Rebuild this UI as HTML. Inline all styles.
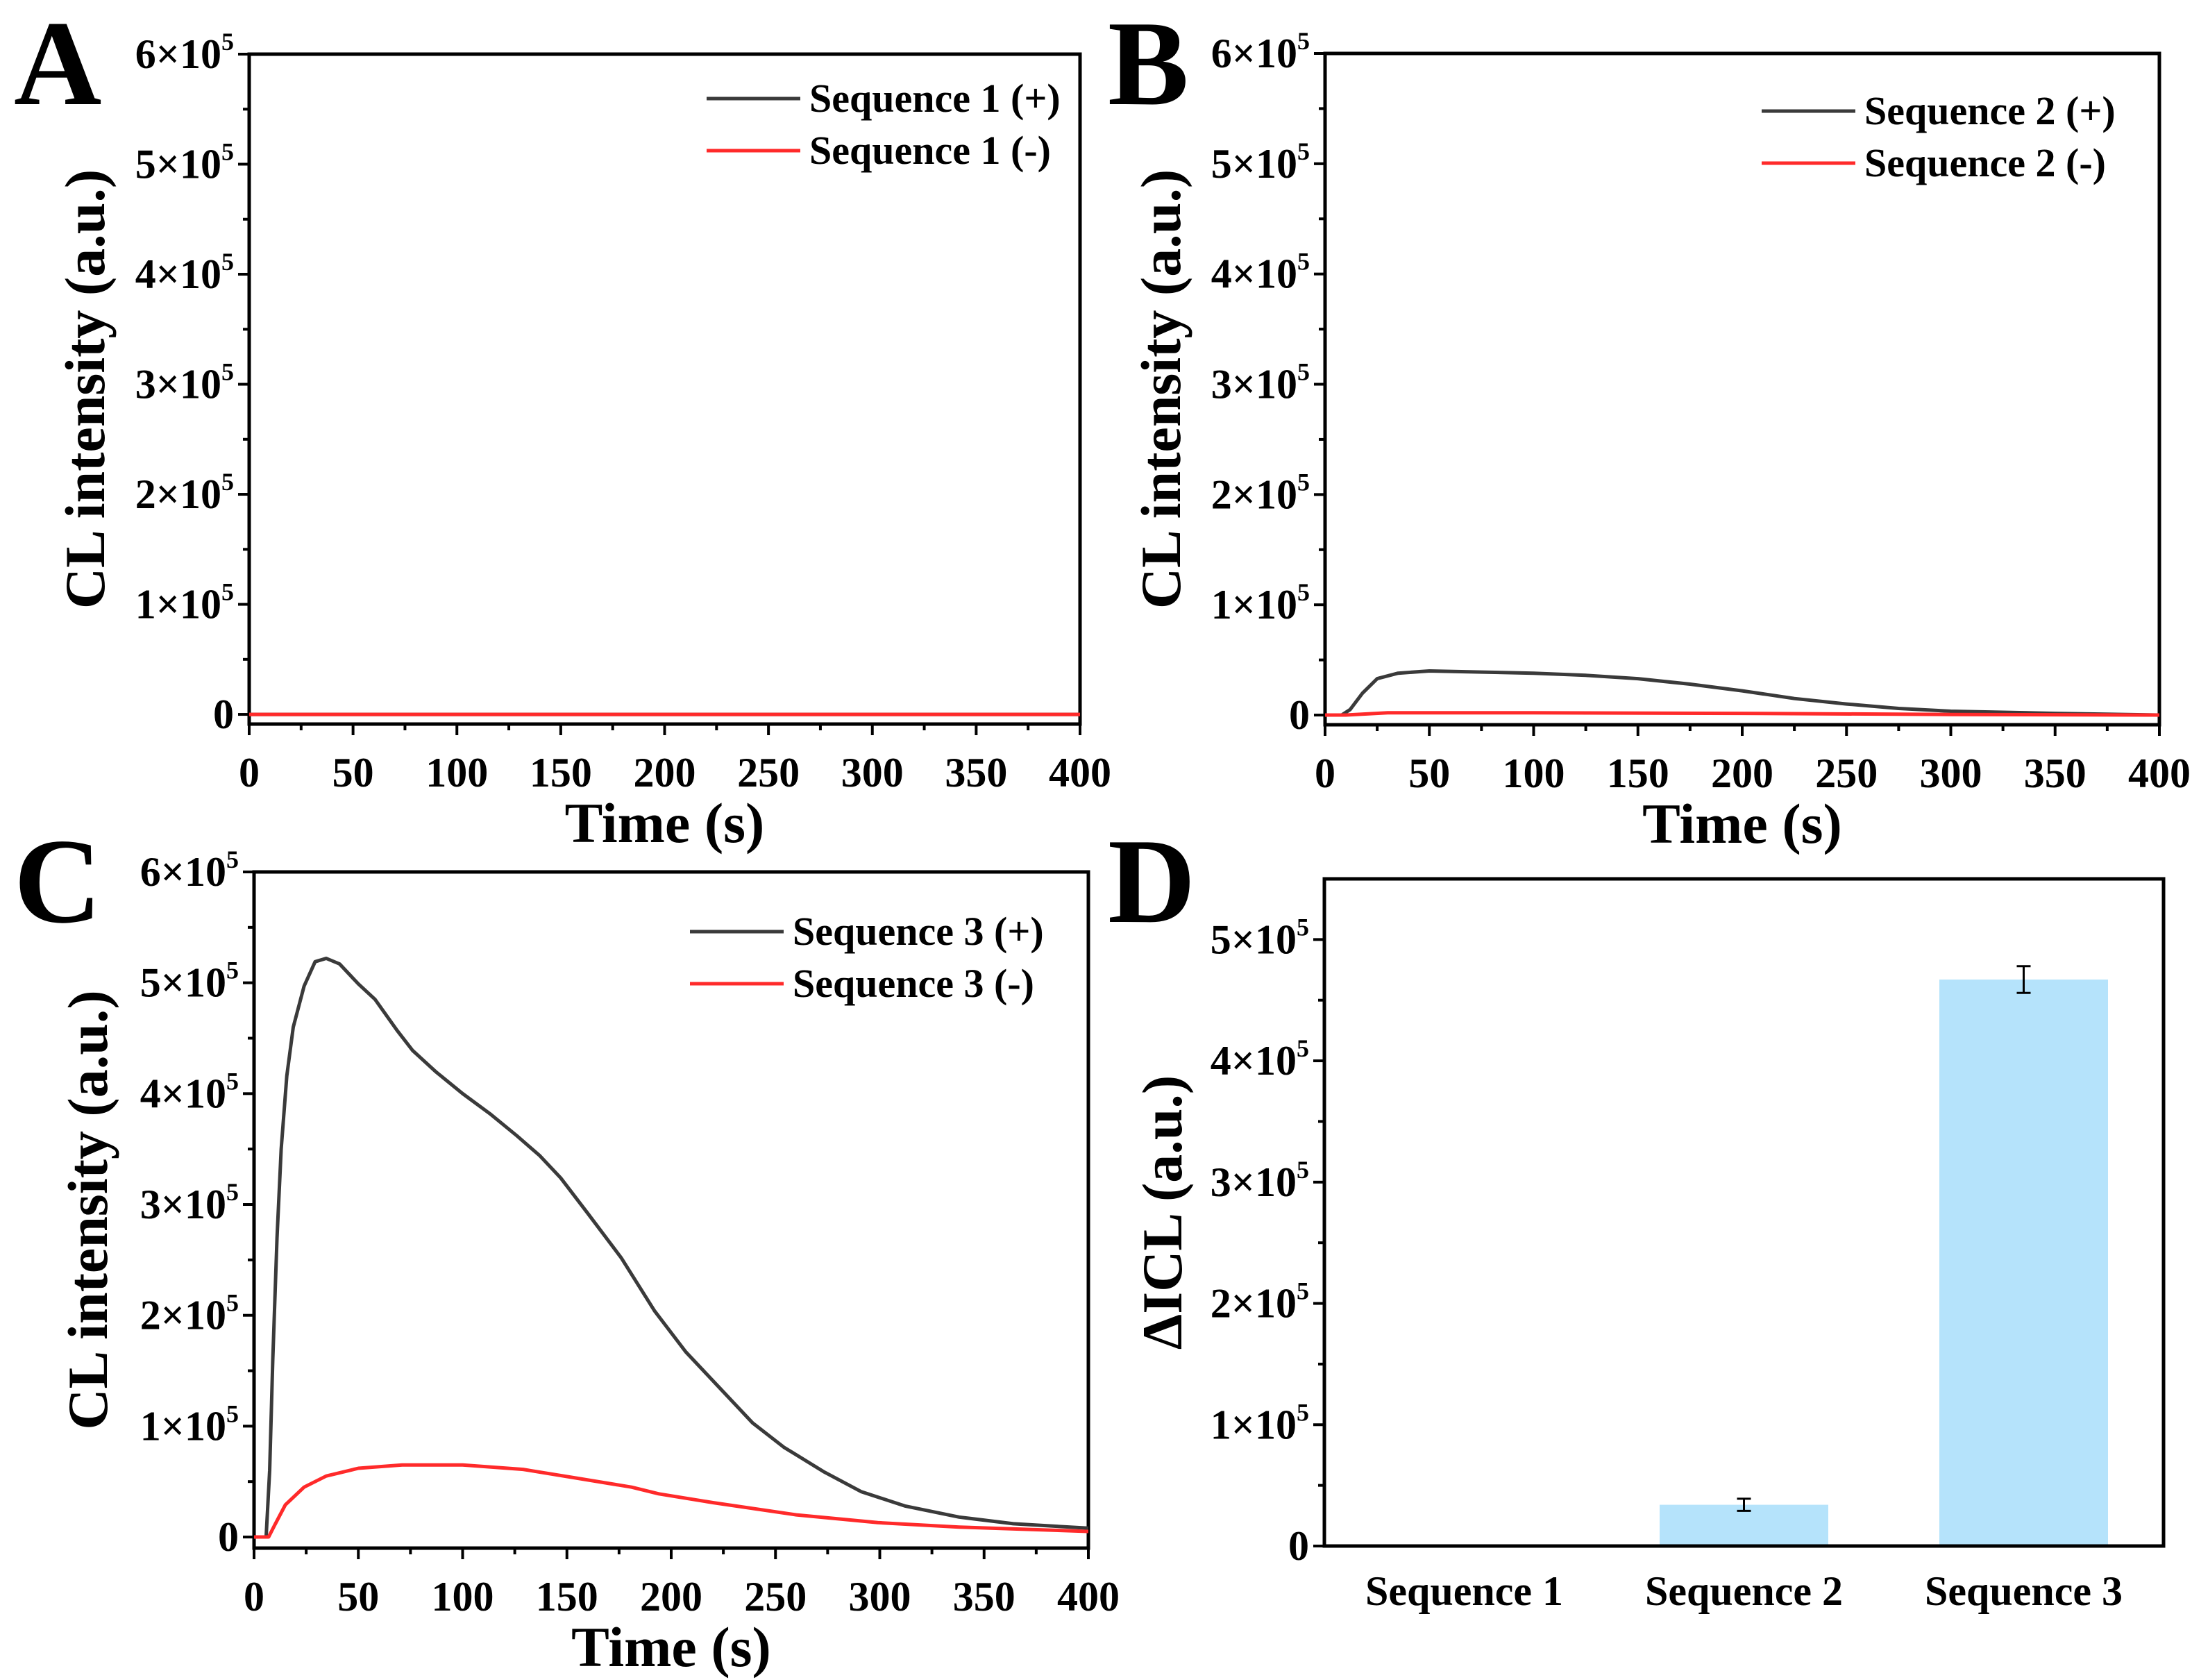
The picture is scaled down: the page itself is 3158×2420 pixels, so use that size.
<!DOCTYPE html>
<html><head><meta charset="utf-8"><style>
html,body{margin:0;padding:0;background:#fff}
svg{display:block}
text{font-family:"Liberation Serif",serif;font-weight:bold;fill:#000}
</style></head><body>
<svg id="fig" width="3158" height="2420" viewBox="0 0 3158 2420" xmlns="http://www.w3.org/2000/svg"></svg>
<script>
// ---- data ----
const tC3p=[0,5.8,7.5,9,11,13,15.7,18.8,24,29.3,34.6,41,50,58,68.6,76,87,100,113,126,137,147,160,176,192,207,223,239,254,273,291,312,338,364,400];
const vC3p=[0,0,0.6,1.6,2.7,3.5,4.16,4.6,4.97,5.19,5.22,5.17,4.99,4.85,4.57,4.39,4.2,4.0,3.82,3.62,3.44,3.24,2.92,2.52,2.04,1.67,1.35,1.03,0.81,0.59,0.41,0.28,0.18,0.12,0.08];
const tC3m=[0,7,9.7,15,24,34.6,50,71,100,129,155,181,194,220,260,299,338,400];
const vC3m=[0,0,0.1,0.29,0.45,0.55,0.62,0.65,0.65,0.61,0.53,0.45,0.39,0.31,0.2,0.13,0.09,0.05];
const tB2p=[0,8,12,18,25,35,50,75,100,125,150,175,200,225,250,275,300,350,400];
const vB2p=[0,0,0.05,0.2,0.33,0.38,0.40,0.39,0.38,0.36,0.33,0.28,0.22,0.15,0.1,0.06,0.035,0.015,0];
const tB2m=[0,10,30,100,200,300,400];
const vB2m=[0,0,0.02,0.02,0.015,0.005,0];
const tA1=[0,400];
const vA1p=[0,0];
const vA1m=[0,0];
const barCats=["Sequence 1","Sequence 2","Sequence 3"];
const barVals=[0,0.34,4.67];
const barErr=[0,0.05,0.11];
const xTicks=[0,50,100,150,200,250,300,350,400];
const yTicks=[0,1,2,3,4,5,6];
const yTicksD=[0,1,2,3,4,5];

const NS="http://www.w3.org/2000/svg";
const svg=document.getElementById('fig');
function mk(tag,attrs,parent){const e=document.createElementNS(NS,tag);for(const k in attrs)e.setAttribute(k,attrs[k]);(parent||svg).appendChild(e);return e;}
function txt(s,x,y,size,anchor,parent){const e=mk('text',{x:x,y:y,'font-size':size,'text-anchor':anchor||'start'},parent);e.textContent=s;return e;}
function ylab(v,x,y,g){
  if(v===0){const t=txt('0',x,y+20,60,'end',g);return;}
  const t=mk('text',{x:x,y:y+20,'font-size':60,'text-anchor':'end'},g);
  
  
  const a=document.createElementNS(NS,'tspan');a.textContent=v+'×10';t.appendChild(a);
  const b=document.createElementNS(NS,'tspan');b.setAttribute('font-size','36');b.setAttribute('dy','-26');b.textContent='5';t.appendChild(b);
}
function panel(o){
  const g=mk('g',{});
  
  
  const X=v=>o.L+(v-o.xmin)/(o.xmax-o.xmin)*(o.R-o.L);
  const Y=v=>o.B-(v-o.ymin)/(o.ymax-o.ymin)*(o.B-o.T);
  o.X=X;o.Y=Y;o.g=g;
  const fr=mk('rect',{x:o.L,y:o.T,width:o.R-o.L,height:o.B-o.T,fill:'none',stroke:'#000','stroke-width':5},g);
  
  
  o.yt.forEach(v=>{const y=Y(v);mk('line',{x1:o.L-16,x2:o.L,y1:y,y2:y,stroke:'#000','stroke-width':4},g);ylab(v,o.L-22,y,g);
    const ym=Y(v+0.5);if(v+0.5<o.ymax)mk('line',{x1:o.L-9,x2:o.L,y1:ym,y2:ym,stroke:'#000','stroke-width':4},g);});
  if(o.xt){o.xt.forEach((v,i)=>{const x=X(v);mk('line',{x1:x,x2:x,y1:o.B,y2:o.B+16,stroke:'#000','stroke-width':4},g);
    const t=txt(String(v),x,o.B+90,60,'middle',g);
    if(i<o.xt.length-1){const xm=X(v+25);mk('line',{x1:xm,x2:xm,y1:o.B,y2:o.B+9,stroke:'#000','stroke-width':4},g);}});
    const xt=txt('Time (s)',(o.L+o.R)/2,o.B+170,82,'middle',g);}
  const yt=txt(o.ytitle,0,0,82,'middle',g);
  yt.setAttribute('transform','translate('+o.ytx+','+((o.T+o.B)/2)+') rotate(-90)');
  
  
  const lt=txt(o.letter,o.lx,o.ly,175,'start',g);
  
  
  return o;
}
function series(o,ts,vs,color,name){
  const d=ts.map((t,i)=>(i?'L':'M')+o.X(t).toFixed(1)+','+o.Y(vs[i]).toFixed(1)).join(' ');
  const p=mk('path',{d:d,fill:'none',stroke:color,'stroke-width':5,'stroke-linejoin':'round'},o.g);
  
  
}
function legend(o,x,y,labels){
  const colors=['#3a3a3a','#ff2a2a'];
  labels.forEach((s,i)=>{const yy=y+i*75;
    const l=mk('line',{x1:x,x2:x+135,y1:yy,y2:yy,stroke:colors[i],'stroke-width':5},o.g);
    
    
    const t=txt(s,x+148,yy+19,58,'start',o.g);
    
    });
}
const A=panel({name:'panel-a',L:359,R:1556,T:78,B:1043,xmin:0,xmax:400,ymin:-0.088,ymax:6,yt:yTicks,xt:xTicks,ytitle:'CL intensity (a.u.)',ytx:150,letter:'A',lx:20,ly:150});
series(A,tA1,vA1p,'#3a3a3a','seq1-plus-line');
series(A,tA1,vA1m,'#ff2a2a','seq1-minus-line');
legend(A,1018,142,['Sequence 1 (+)','Sequence 1 (-)']);
const Bp=panel({name:'panel-b',L:1909,R:3111,T:77,B:1044,xmin:0,xmax:400,ymin:-0.088,ymax:6,yt:yTicks,xt:xTicks,ytitle:'CL intensity (a.u.)',ytx:1700,letter:'B',lx:1596,ly:150});
series(Bp,tB2p,vB2p,'#3a3a3a','seq2-plus-line');
series(Bp,tB2m,vB2m,'#ff2a2a','seq2-minus-line');
legend(Bp,2538,160,['Sequence 2 (+)','Sequence 2 (-)']);
const C=panel({name:'panel-c',L:366,R:1568,T:1256,B:2230,xmin:0,xmax:400,ymin:-0.1,ymax:6,yt:yTicks,xt:xTicks,ytitle:'CL intensity (a.u.)',ytx:154,letter:'C',lx:20,ly:1328});
series(C,tC3p,vC3p,'#3a3a3a','seq3-plus-line');
series(C,tC3m,vC3m,'#ff2a2a','seq3-minus-line');
legend(C,994,1342,['Sequence 3 (+)','Sequence 3 (-)']);
const D=panel({name:'panel-d',L:1908,R:3117,T:1266,B:2227,xmin:0,xmax:3,ymin:0,ymax:5.5,yt:yTicksD,xt:null,ytitle:'ΔICL (a.u.)',ytx:1702,letter:'D',lx:1596,ly:1328});
barCats.forEach((c,i)=>{const cx=D.X(i+0.5),w=243,y=D.Y(barVals[i]);
  const r=mk('rect',{x:cx-w/2,y:y,width:w,height:D.B-y-2.5,fill:'#b5e3fb'},D.g);
  
  
  if(barErr[i]>0){const y1=D.Y(barVals[i]+barErr[i]),y2=D.Y(barVals[i]-barErr[i]);
    const e=mk('path',{d:`M${cx-10},${y1}H${cx+10}M${cx},${y1}V${y2}M${cx-10},${y2}H${cx+10}`,stroke:'#000','stroke-width':3,fill:'none'},D.g);
    
    }
  const t=txt(c,cx,2312,60,'middle',D.g);
  
  
});
</script>
</body></html>
